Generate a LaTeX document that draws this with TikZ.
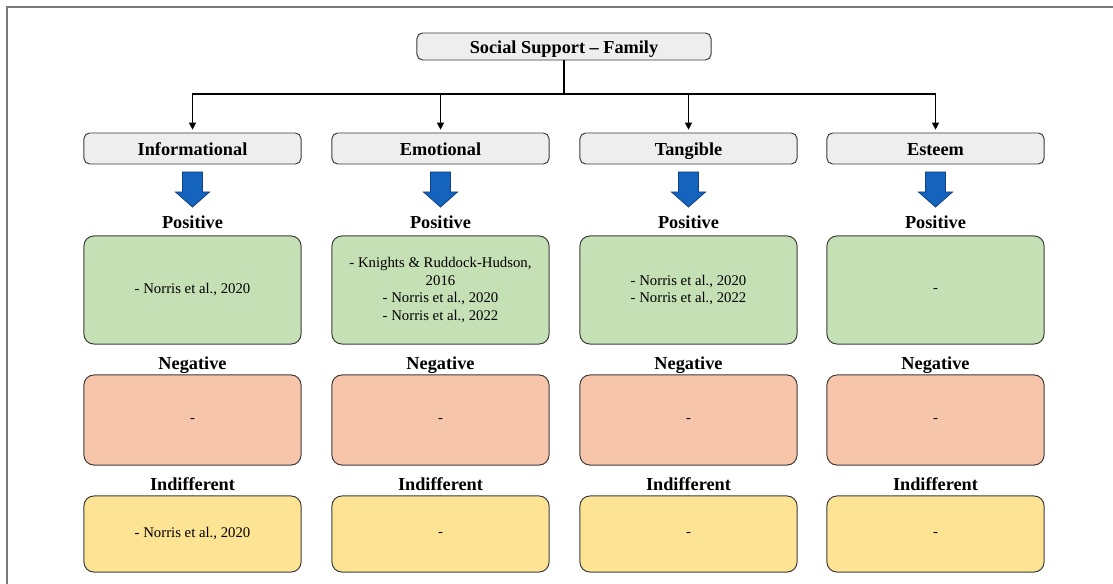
\documentclass[tikz,border=0pt]{standalone}
\usepackage{fontspec}
\setmainfont{Liberation Serif}
\usepackage{tikz}
\usetikzlibrary{calc, positioning, shapes, arrows.meta, backgrounds}
\definecolor{boxline}{RGB}{60,60,60}
\definecolor{framegray}{RGB}{120,120,120}
\definecolor{headgray}{RGB}{238,238,238}
\definecolor{posgreen}{RGB}{197,224,180}
\definecolor{negred}{RGB}{247,198,170}
\definecolor{indyellow}{RGB}{253,227,148}
\definecolor{arrowblue}{RGB}{20,100,190}
\definecolor{arrowedge}{RGB}{18,66,130}
\tikzstyle{rootbox}=[draw=boxline, fill=headgray, rounded corners=4pt, line width=0.7pt, minimum width=7.35cm, minimum height=0.675cm, inner sep=0pt, text height=12.5pt, text depth=3pt, font=\fontsize{13}{15}\selectfont\bfseries]
\tikzstyle{headbox}=[draw=boxline, fill=headgray, rounded corners=4pt, line width=0.7pt, minimum width=5.425cm, minimum height=0.775cm, inner sep=0pt, text height=13.5pt, text depth=3pt, font=\fontsize{13}{15}\selectfont\bfseries]
\tikzstyle{lbl}=[inner sep=0pt, text height=13.5pt, text depth=3pt, font=\fontsize{13}{15}\selectfont\bfseries]
\tikzstyle{resbox}=[draw=boxline, rounded corners=7pt, line width=0.7pt, minimum width=5.425cm, inner sep=0pt, align=center, font=\fontsize{10.5}{12.6}\selectfont]
\tikzstyle{posbox}=[resbox, fill=posgreen, minimum height=2.7cm]
\tikzstyle{negbox}=[resbox, fill=negred, minimum height=2.25cm]
\tikzstyle{indbox}=[resbox, fill=indyellow, minimum height=1.9cm]
\tikzstyle{link}=[-{Triangle[length=5pt,width=5pt]}, line width=0.8pt, shorten >=2pt]
\tikzset{bluearrow/.pic={\draw[fill=arrowblue, draw=arrowedge, line width=0.6pt] (-10,0) -- (10,0) -- (10,20) -- (17,20) -- (0,35) -- (-17,20) -- (-10,20) -- cycle;}}

\begin{document}
\begin{tikzpicture}[x=0.025cm, y=-0.025cm]
			\useasboundingbox (0,0) rectangle (1113,584);
			\draw[framegray, line width=1.6pt] (7,584) -- (7,7) -- (1113,7);

			\node[rootbox] (top) at (564,46.5) {Social Support -- Family};
			\coordinate (bus) at (564,94);

			% categories
			\node[headbox] (info) at (192.5,148.5) {Informational};
			\node[headbox] (emo) at (440.5,148.5) {Emotional};
			\node[headbox] (tang) at (688.5,148.5) {Tangible};
			\node[headbox] (est) at (935.5,148.5) {Esteem};

			\path
			(top) edge[line width=0.8pt] (bus)
			;
			\draw[link] (bus) -| (info);
			\draw[link] (bus) -| (emo);
			\draw[link] (bus) -| (tang);
			\draw[link] (bus) -| (est);

			\pic at (192.5,172) {bluearrow};
			\pic at (440.5,172) {bluearrow};
			\pic at (688.5,172) {bluearrow};
			\pic at (935.5,172) {bluearrow};

			% positive
			\node[lbl] (info-plbl) at (192.5,221) {Positive};
			\node[lbl] (emo-plbl) at (440.5,221) {Positive};
			\node[lbl] (tang-plbl) at (688.5,221) {Positive};
			\node[lbl] (est-plbl) at (935.5,221) {Positive};
			\node[posbox] (info-pos) at (192.5,290) {- Norris et al., 2020};
			\node[posbox] (emo-pos) at (440.5,290) {- Knights \& Ruddock-Hudson,\\2016\\- Norris et al., 2020\\- Norris et al., 2022};
			\node[posbox] (tang-pos) at (688.5,290) {- Norris et al., 2020\\- Norris et al., 2022};
			\node[posbox] (est-pos) at (935.5,290) {-};

			% negative
			\node[lbl] (info-nlbl) at (192.5,362) {Negative};
			\node[lbl] (emo-nlbl) at (440.5,362) {Negative};
			\node[lbl] (tang-nlbl) at (688.5,362) {Negative};
			\node[lbl] (est-nlbl) at (935.5,362) {Negative};
			\node[negbox] (info-neg) at (192.5,420) {-};
			\node[negbox] (emo-neg) at (440.5,420) {-};
			\node[negbox] (tang-neg) at (688.5,420) {-};
			\node[negbox] (est-neg) at (935.5,420) {-};

			% indifferent
			\node[lbl] (info-ilbl) at (192.5,483) {Indifferent};
			\node[lbl] (emo-ilbl) at (440.5,483) {Indifferent};
			\node[lbl] (tang-ilbl) at (688.5,483) {Indifferent};
			\node[lbl] (est-ilbl) at (935.5,483) {Indifferent};
			\node[indbox] (info-ind) at (192.5,534) {- Norris et al., 2020};
			\node[indbox] (emo-ind) at (440.5,534) {-};
			\node[indbox] (tang-ind) at (688.5,534) {-};
			\node[indbox] (est-ind) at (935.5,534) {-};
		\end{tikzpicture}
\end{document}
